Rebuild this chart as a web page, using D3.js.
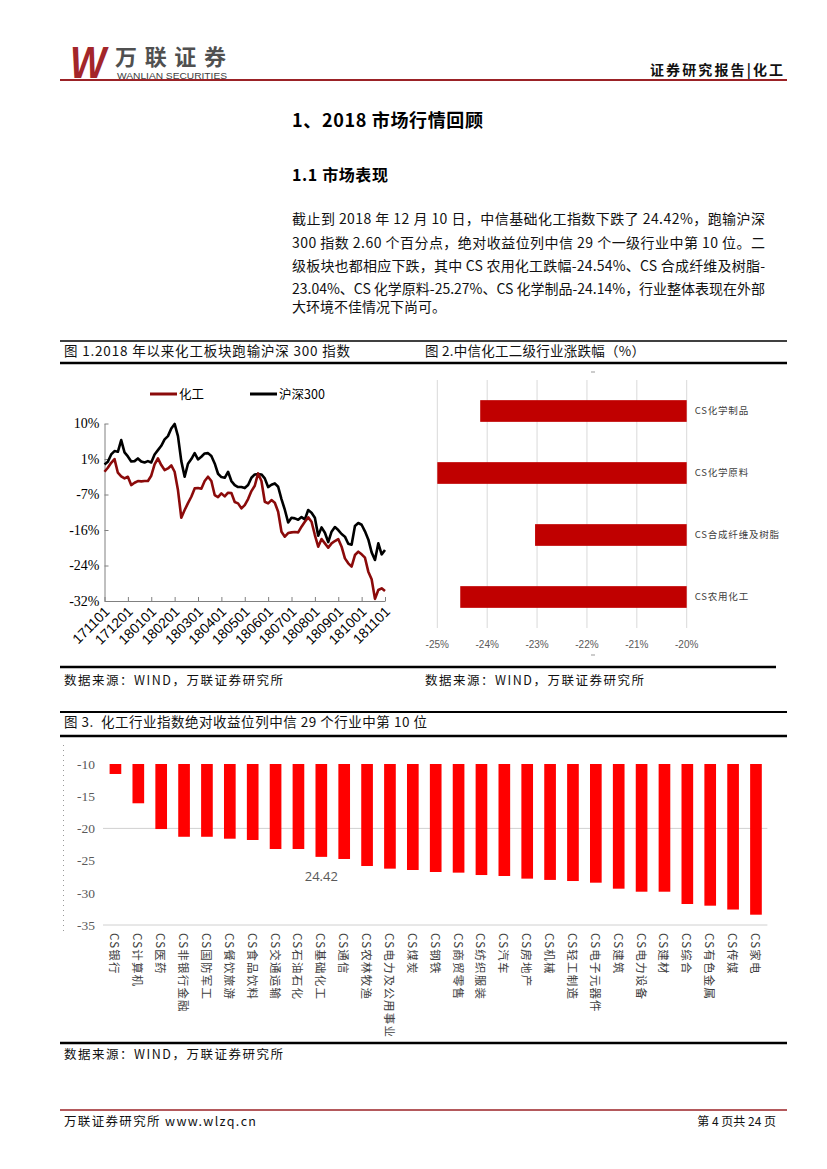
<!DOCTYPE html>
<html><head><meta charset="utf-8">
<script src="https://cdn.jsdelivr.net/npm/d3@7"></script>
<style>body{margin:0;background:#fff}svg{display:block}</style>
</head><body><svg id="page" width="827" height="1169"></svg>
<script>
// ---------------- DATA ----------------
// Figure 1: cumulative return (%) since 2017-11-01, sampled every ~3 trading days (1/7 month)
const fig1MonthLabels = ["171101","171201","180101","180201","180301","180401","180501","180601","180701","180801","180901","181001","181101"];
const fig1YLabels = ["10%","1%","-7%","-16%","-24%","-32%"];
const fig1Step = 1/7;
const hs300 = [0.32,0.95,2.68,3.47,3.31,6.07,3.15,2.21,1.02,1.10,1.73,1.02,0.79,1.10,0.79,2.68,3.70,4.73,6.23,7.01,8.83,9.9,7.01,1.10,-2.6,0.47,1.58,2.99,1.50,2.13,2.92,2.99,2.29,0.55,-1.89,-2.68,-2.84,-1.42,-3.62,-4.57,-5.04,-5.04,-5.28,-4.57,-2.84,-2.05,-1.97,-2.05,-2.99,-5.04,-4.49,-4.18,-4.96,-7.88,-10.40,-13.40,-12.29,-12.45,-12.77,-12.14,-12.69,-10.48,-11.11,-12.29,-16.55,-14.58,-15.84,-18.05,-15.60,-14.50,-15.21,-16.15,-16.78,-18.44,-18.68,-14.26,-13.55,-13.95,-15.52,-17.42,-20.49,-22.30,-18.36,-20.96,-19.94];
const chem = [-1.42,-0.47,0.71,1.58,-1.65,-2.52,-2.99,-2.60,-4.57,-4.02,-3.62,-3.70,-3.62,-3.62,-2.36,0.32,1.73,0.16,-1.02,-0.63,0.08,-1.42,-5.75,-12.3,-10.48,-8.83,-7.33,-5.36,-5.28,-5.44,-3.62,-2.60,-3.62,-6.93,-7.41,-6.54,-7.25,-6.38,-6.46,-8.59,-8.90,-10.09,-9.30,-7.88,-5.99,-4.73,-1.81,-3.62,-8.51,-8.90,-8.12,-8.75,-10.87,-15.60,-16.78,-15.92,-15.76,-15.68,-15.76,-14.42,-13.24,-12.21,-13.24,-16.39,-19.15,-17.34,-18.36,-19.39,-18.36,-17.81,-17.34,-19.15,-21.91,-23.09,-23.88,-21.12,-20.33,-20.96,-21.75,-25.06,-26.87,-31.5,-29.39,-29.00,-29.63];
const fig1Series = ["化工","沪深300"];

// Figure 2: CITIC chemical sub-industries (%)
const fig2Cats = ["CS化学制品","CS化学原料","CS合成纤维及树脂","CS农用化工"];
const fig2Vals = [-24.14,-25.27,-23.04,-24.54];
const fig2Ticks = [-25,-24,-23,-22,-21,-20];

// Figure 3: CITIC level-1 industries absolute return (%)
const fig3Cats = ["CS银行","CS计算机","CS医药","CS非银行金融","CS国防军工","CS餐饮旅游","CS食品饮料","CS交通运输","CS石油石化","CS基础化工","CS通信","CS农林牧渔","CS电力及公用事业","CS煤炭","CS钢铁","CS商贸零售","CS纺织服装","CS汽车","CS房地产","CS机械","CS轻工制造","CS电子元器件","CS建筑","CS电力设备","CS建材","CS综合","CS有色金属","CS传媒","CS家电"];
const fig3Vals = [-11.55,-16.1,-20.1,-21.3,-21.3,-21.6,-21.8,-23.2,-23.2,-24.42,-24.75,-25.84,-26.25,-26.46,-26.77,-26.87,-27.24,-27.39,-27.8,-28.0,-28.17,-28.43,-29.36,-29.83,-29.83,-31.74,-32.0,-32.6,-33.4];
const fig3Ticks = [-10,-15,-20,-25,-30,-35];
const fig3Grid = [-20,-35];
const fig3Labelled = "CS基础化工";

// ---------------- DRAW ----------------
const CJK = '"Noto Sans CJK SC","Noto Sans",sans-serif';
const svg = d3.select('#page');
svg.append('rect').attr('width',827).attr('height',1169).attr('fill','#fff');

function txt(x,y,s,opts={}){
  const t = svg.append('text').attr('x',x).attr('y',y).text(s)
    .attr('font-family',opts.family||CJK).attr('font-size',opts.size||13)
    .attr('fill',opts.fill||'#000').attr('xml:space','preserve');
  if(opts.weight) t.attr('font-weight',opts.weight);
  if(opts.anchor) t.attr('text-anchor',opts.anchor);
  if(opts.len) t.attr('textLength',opts.len).attr('lengthAdjust',opts.adj||'spacing');
  if(opts.style) t.attr('font-style',opts.style);
  return t;
}
function hline(x1,x2,y,w,c){
  svg.append('line').attr('x1',x1).attr('x2',x2).attr('y1',y).attr('y2',y).attr('stroke',c||'#000').attr('stroke-width',w);
}

// Header
txt(70,78,'W',{family:'"Liberation Sans",Arial',size:44,weight:'bold',style:'italic',fill:'#a3262a',len:36,adj:'spacingAndGlyphs'});
txt(115,65,'万联证券',{size:22,weight:'bold',fill:'#505050',len:111});
txt(117,78.5,'WANLIAN SECURITIES',{family:'"Liberation Sans",Arial',size:9.5,fill:'#404040',len:110,adj:'spacingAndGlyphs'});
txt(650,75,'证券研究报告|化工',{size:14,weight:'bold',fill:'#111',len:133});
hline(60,787,80,2,'#9b2226');

// Headings
txt(292,127,'1、2018 市场行情回顾',{size:18,weight:'bold',len:191});
txt(292,181,'1.1 市场表现',{size:16,weight:'bold',len:96});

const para = [
  '截止到 2018 年 12 月 10 日，中信基础化工指数下跌了 24.42%，跑输沪深',
  '300 指数 2.60 个百分点，绝对收益位列中信 29 个一级行业中第 10 位。二',
  '级板块也都相应下跌，其中 CS 农用化工跌幅-24.54%、CS 合成纤维及树脂-',
  '23.04%、CS 化学原料-25.27%、CS 化学制品-24.14%，行业整体表现在外部',
  '大环境不佳情况下尚可。'
];
const paraY = [224,248,271,294,312];
para.forEach((s,i)=>{
  txt(292,paraY[i],s,{size:14,fill:'#111',len: i<4 ? 473 : null});
});

// Figure 1/2 caption band
hline(60,787,341,1.5);
txt(64,356,'图 1.2018 年以来化工板块跑输沪深 300 指数',{size:13.5,fill:'#111',len:286});
txt(425,356,'图 2.中信化工二级行业涨跌幅（%）',{size:13.5,fill:'#111',len:220});
hline(60,787,363,2.5);

// ---- Figure 1 ----
const x1 = d3.scaleLinear().domain([0,12]).range([104.5,385]);
const y1 = d3.scaleLinear().domain([-32,10]).range([601,423.5]);
const g1 = svg.append('g');
const yAx = g1.append('g').attr('transform','translate(104.5,0)')
  .call(d3.axisLeft(y1).tickValues(d3.range(6).map(i=>10-i*8.4)).tickFormat((d,i)=>fig1YLabels[i]).tickSizeInner(-4).tickSizeOuter(0).tickPadding(5));
yAx.selectAll('text').attr('font-family','"Liberation Serif","Times New Roman",serif').attr('font-size',14).attr('fill','#000');
const xAx = g1.append('g').attr('transform','translate(0,601)')
  .call(d3.axisBottom(x1).tickValues(d3.range(13)).tickFormat((d,i)=>fig1MonthLabels[i]).tickSizeInner(-4).tickSizeOuter(0));
xAx.selectAll('text').attr('font-family','"Liberation Sans",Arial,sans-serif').attr('font-size',14).attr('fill','#000')
  .attr('text-anchor','end').attr('x',0).attr('y',0).attr('dy','0.35em').attr('transform','translate(2,8) rotate(-45)');
g1.selectAll('.domain, .tick line').attr('stroke','#808080');

const line1 = d3.line().x((d,i)=>x1(i*fig1Step)).y(d=>y1(d));
g1.append('path').datum(hs300).attr('d',line1).attr('fill','none').attr('stroke','#000').attr('stroke-width',2.6).attr('stroke-linejoin','round');
g1.append('path').datum(chem).attr('d',line1).attr('fill','none').attr('stroke','#8b0a0a').attr('stroke-width',2.6).attr('stroke-linejoin','round');
// legend
const legColors = ['#8b0a0a','#000'];
const legX = [150,250];
fig1Series.forEach((s,i)=>{
  g1.append('line').attr('x1',legX[i]).attr('x2',legX[i]+27).attr('y1',394).attr('y2',394).attr('stroke',legColors[i]).attr('stroke-width',3);
  g1.append('text').attr('x',legX[i]+29).attr('y',398.5).text(s).attr('font-family',CJK).attr('font-size',12.5).attr('fill','#000');
});

// ---- Figure 2 ----
const x2 = d3.scaleLinear().domain([-25,-20]).range([437.3,686.7]);
const y2 = d3.scaleBand().domain(fig2Cats).range([380,628]).paddingInner(0.65).paddingOuter(0.325);
const g2 = svg.append('g');
g2.selectAll('line.grid').data(fig2Ticks).join('line')
  .attr('x1',d=>x2(d)).attr('x2',d=>x2(d)).attr('y1',380).attr('y2',628).attr('stroke','#d9d9d9').attr('stroke-width',1);
g2.selectAll('rect').data(fig2Cats).join('rect')
  .attr('x',(d,i)=>x2(Math.max(fig2Vals[i],-25)))
  .attr('width',(d,i)=>x2(-20)-x2(Math.max(fig2Vals[i],-25)))
  .attr('y',d=>y2(d)).attr('height',y2.bandwidth()).attr('fill','#c00000');
g2.selectAll('text.cat').data(fig2Cats).join('text')
  .attr('x',x2(-20)+8).attr('y',d=>y2(d)+y2.bandwidth()/2).attr('dy','0.35em').text(d=>d)
  .attr('font-family',CJK).attr('font-size',9.5).attr('letter-spacing',0.8).attr('fill','#404040');
g2.selectAll('text.tk').data(fig2Ticks).join('text')
  .attr('x',d=>x2(d)).attr('y',648).attr('text-anchor','middle').text(d=>d+'%')
  .attr('font-family','"Liberation Sans Narrow","Liberation Sans",Arial,sans-serif').attr('font-size',10).attr('fill','#595959');
g2.append('line').attr('x1',591).attr('x2',595).attr('y1',372).attr('y2',372).attr('stroke','#999');
g2.append('line').attr('x1',591).attr('x2',595).attr('y1',655).attr('y2',655).attr('stroke','#999');

hline(60,776,667,2.5);
txt(64,685,'数据来源：WIND，万联证券研究所',{size:12.5,fill:'#111',len:219});
txt(425,685,'数据来源：WIND，万联证券研究所',{size:12.5,fill:'#111',len:219});

// ---- Figure 3 ----
hline(60,787,712,2);
txt(64,727,'图 3.\u00a0\u00a0化工行业指数绝对收益位列中信 29 个行业中第 10 位',{size:13.5,fill:'#111',len:363});
hline(60,787,736,2.5);

const x3 = d3.scaleBand().domain(fig3Cats).range([104,767.4]).paddingInner(0.49).paddingOuter(0.245);
const y3 = d3.scaleLinear().domain([-10,-35]).range([764,925]);
const g3 = svg.append('g');
g3.append('line').attr('x1',63.5).attr('x2',63.5).attr('y1',745).attr('y2',935).attr('stroke','#999').attr('stroke-dasharray','1,4');
g3.selectAll('line.grid').data(fig3Grid).join('line')
  .attr('x1',103).attr('x2',767.4).attr('y1',d=>y3(d)).attr('y2',d=>y3(d)).attr('stroke','#d0d0d0').attr('stroke-width',1);
g3.selectAll('text.yt').data(fig3Ticks).join('text')
  .attr('x',95).attr('y',d=>y3(d)).attr('dy','0.35em').attr('text-anchor','end').text(d=>d)
  .attr('font-family','"Liberation Serif","Times New Roman",serif').attr('font-size',13.5).attr('fill','#595959');
g3.selectAll('rect').data(fig3Cats).join('rect')
  .attr('x',d=>x3(d)).attr('width',x3.bandwidth())
  .attr('y',y3(-10)).attr('height',(d,i)=>y3(fig3Vals[i])-y3(-10)).attr('fill','#ff0000');
g3.selectAll('g.lab').data(fig3Cats).join('g')
  .attr('transform',d=>`translate(${x3(d)+x3.bandwidth()/2},933) rotate(90)`)
  .append('text').text(d=>d).attr('dominant-baseline','central')
  .attr('font-family',CJK).attr('font-size',11.5).attr('letter-spacing',1.2).attr('fill','#404040');
const li = fig3Cats.indexOf(fig3Labelled);
g3.append('text').attr('x',x3(fig3Labelled)+x3.bandwidth()/2).attr('y',y3(fig3Vals[li])+24)
  .attr('text-anchor','middle').text(Math.abs(fig3Vals[li]).toFixed(2))
  .attr('font-family','"Open Sans",sans-serif').attr('font-size',13).attr('fill','#595959');

hline(60,787,1043,2.5);
txt(64,1059,'数据来源：WIND，万联证券研究所',{size:12.5,fill:'#111',len:219});

// Footer
hline(60,787,1110,1.5,'#9b2226');
txt(64,1126,'万联证券研究所 www.wlzq.cn',{size:12.5,fill:'#111',len:192});
txt(776,1126,'第 4 页共 24 页',{size:12,fill:'#111',anchor:'end'});
</script></body></html>
